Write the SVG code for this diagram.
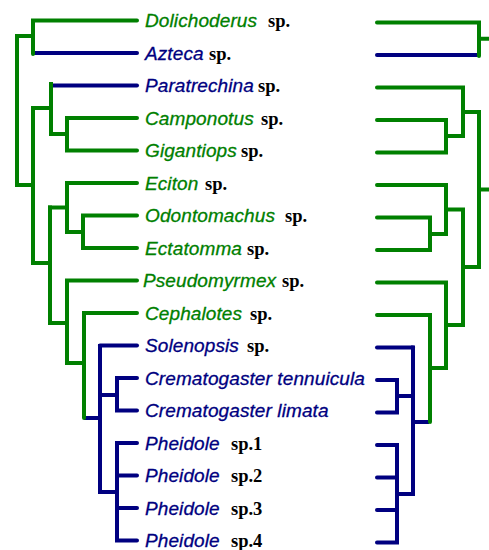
<svg xmlns="http://www.w3.org/2000/svg" width="489" height="550" viewBox="0 0 489 550">
<style>
.g{fill:none;stroke:#008000;stroke-width:4;stroke-linecap:round;stroke-linejoin:miter}
.b{fill:none;stroke:#000080;stroke-width:4;stroke-linecap:round;stroke-linejoin:miter}
.gs{fill:none;stroke:#008000;stroke-width:4;stroke-linecap:square;stroke-linejoin:miter}
.bs{fill:none;stroke:#000080;stroke-width:4;stroke-linecap:square;stroke-linejoin:miter}
.n{font-family:"Liberation Sans",Arial,sans-serif;font-style:italic;font-size:19px;letter-spacing:0.1px;stroke-width:0.3px}
.ng{fill:#008000;stroke:#008000}
.nb{fill:#000080;stroke:#000080}
.sp{font-family:"Liberation Serif","Times New Roman",serif;font-weight:bold;font-size:18.5px;fill:#000}
</style>
<rect width="489" height="550" fill="#fff"/>
<g id="connectors">
<g id="left-tree">
<path class="b" d="M137,53 H35"/>
<path class="g" d="M137,20.5 H33 V54"/>
<path class="gs" d="M33,36 H17 V185 H33"/>
<path class="gs" d="M33,108 V263"/>
<path class="b" d="M137,85.5 H53"/>
<path class="gs" d="M51,84 V134 H67"/>
<path class="gs" d="M33,108 H51"/>
<path class="g" d="M137,118 H67 V150.5 H137"/>
<path class="gs" d="M33,263 H50"/>
<path class="gs" d="M50,207.5 V323"/>
<path class="gs" d="M50,207.5 H67"/>
<path class="gs" d="M50,323 H67"/>
<path class="g" d="M137,183 H67 V232 H83"/>
<path class="g" d="M137,215.5 H83 V248 H137"/>
<path class="g" d="M137,280.5 H67 V363 H83"/>
<path class="bs" d="M86,418 H100"/>
<path class="g" d="M137,313 H84 V418"/>
<path class="bs" d="M100,346 V492"/>
<path class="b" d="M137,345.5 H100"/>
<path class="bs" d="M100,395 H117"/>
<path class="b" d="M137,378 H117 V410.5 H137"/>
<path class="bs" d="M100,492 H117"/>
<path class="b" d="M137,443 H117 V540.5 H137"/>
<path class="b" d="M137,475.5 H117"/>
<path class="b" d="M137,508 H117"/>
</g>
<g id="right-tree">
<path class="b" d="M377,55 H477"/>
<path class="g" d="M377,22.5 H479 V56"/>
<path class="gs" d="M479,38.75 H492"/>
<path class="g" d="M377,87.5 H463 V136"/>
<path class="g" d="M377,120 H446 V152.5 H377"/>
<path class="gs" d="M446,136 H463"/>
<path class="gs" d="M463,112 H479 V267"/>
<path class="gs" d="M479,189.5 H492"/>
<path class="g" d="M377,185 H446 V234"/>
<path class="g" d="M377,217.5 H430 V250 H377"/>
<path class="gs" d="M430,234 H446"/>
<path class="gs" d="M446,209.5 H463 V325"/>
<path class="gs" d="M463,267 H479"/>
<path class="g" d="M377,282.5 H446 V368"/>
<path class="gs" d="M446,325 H463"/>
<path class="bs" d="M427,422 H413"/>
<path class="g" d="M377,315 H430 V422"/>
<path class="gs" d="M430,368 H446"/>
<path class="bs" d="M413,347.5 V494"/>
<path class="b" d="M377,347.5 H413"/>
<path class="bs" d="M413,396 H397"/>
<path class="b" d="M377,380 H397 V412.5 H377"/>
<path class="bs" d="M413,494 H397"/>
<path class="b" d="M377,445 H397 V542.5 H377"/>
<path class="b" d="M377,477.5 H397"/>
<path class="b" d="M377,510 H397"/>
</g>
</g>
<g id="node-dolichoderus"><text class="n ng" x="145" y="27">Dolichoderus</text><text class="sp" x="268" y="27">sp.</text></g>
<g id="node-azteca"><text class="n nb" x="145" y="59.5">Azteca</text><text class="sp" x="209" y="59.5">sp.</text></g>
<g id="node-paratrechina"><text class="n nb" x="145" y="92">Paratrechina</text><text class="sp" x="258" y="92">sp.</text></g>
<g id="node-camponotus"><text class="n ng" x="145" y="124.5">Camponotus</text><text class="sp" x="261" y="124.5">sp.</text></g>
<g id="node-gigantiops"><text class="n ng" x="145" y="157">Gigantiops</text><text class="sp" x="241" y="157">sp.</text></g>
<g id="node-eciton"><text class="n ng" x="145" y="189.5">Eciton</text><text class="sp" x="205" y="189.5">sp.</text></g>
<g id="node-odontomachus"><text class="n ng" x="145" y="222">Odontomachus</text><text class="sp" x="285" y="222">sp.</text></g>
<g id="node-ectatomma"><text class="n ng" x="145" y="254.5">Ectatomma</text><text class="sp" x="247" y="254.5">sp.</text></g>
<g id="node-pseudomyrmex"><text class="n ng" x="143" y="287">Pseudomyrmex</text><text class="sp" x="282" y="287">sp.</text></g>
<g id="node-cephalotes"><text class="n ng" x="145" y="319.5">Cephalotes</text><text class="sp" x="250" y="319.5">sp.</text></g>
<g id="node-solenopsis"><text class="n nb" x="145" y="352">Solenopsis</text><text class="sp" x="247" y="352">sp.</text></g>
<g id="node-crematogaster-tennuicula"><text class="n nb" x="145" y="384.5">Crematogaster tennuicula</text></g>
<g id="node-crematogaster-limata"><text class="n nb" x="145" y="417">Crematogaster limata</text></g>
<g id="node-pheidole-1"><text class="n nb" x="145" y="449.5">Pheidole</text><text class="sp" x="231" y="449.5">sp.1</text></g>
<g id="node-pheidole-2"><text class="n nb" x="145" y="482">Pheidole</text><text class="sp" x="231" y="482">sp.2</text></g>
<g id="node-pheidole-3"><text class="n nb" x="145" y="514.5">Pheidole</text><text class="sp" x="231" y="514.5">sp.3</text></g>
<g id="node-pheidole-4"><text class="n nb" x="145" y="547">Pheidole</text><text class="sp" x="231" y="547">sp.4</text></g>
</svg>
